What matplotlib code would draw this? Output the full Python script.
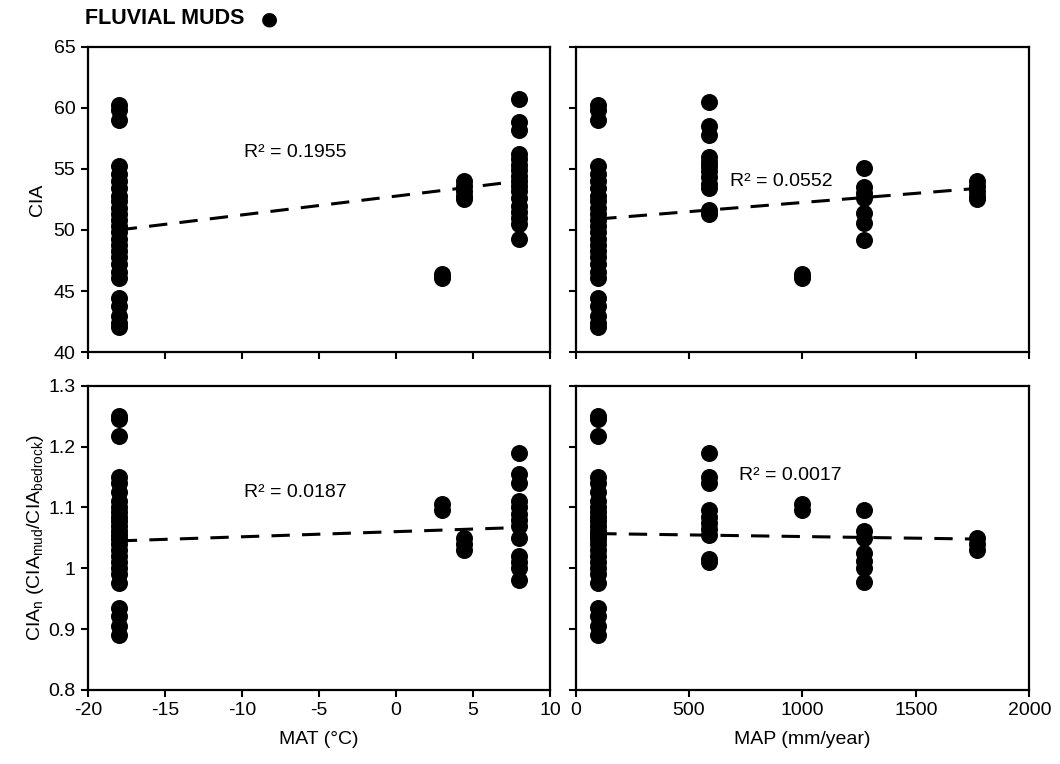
import matplotlib
matplotlib.use("Agg")
import matplotlib.pyplot as plt
import numpy as np

plt.rcParams['font.family'] = ['Liberation Sans', 'DejaVu Sans']
plt.rcParams['mathtext.fontset'] = 'custom'
plt.rcParams['mathtext.rm'] = 'Liberation Sans'
plt.rcParams['axes.unicode_minus'] = False

# site climate values (one per sampled group)
mat_sites = [-18, 3, 4.4, 8]
map_sites = [100, 1000, 1770, 590, 1270]

# CIA values per group
cia_cold = [60.2, 59.8, 59.0, 55.2, 54.6, 54.0, 53.4, 52.8, 52.4, 51.8, 51.3, 50.8,
            50.3, 49.8, 49.3, 48.8, 48.3, 47.8, 47.2, 46.6, 46.1, 44.4, 43.8, 43.0,
            42.4, 42.1]
cia_3 = [46.4, 46.1]
cia_44 = [54.0, 53.6, 53.2, 52.8, 52.5]
cia_8 = [60.7, 58.8, 58.2, 56.2, 55.8, 55.3, 54.9, 54.4, 54.0, 53.6, 53.2, 52.6,
         52.0, 51.5, 51.0, 50.5, 49.3]
cia_590 = [60.5, 58.5, 57.8, 56.0, 55.6, 55.2, 54.8, 54.3, 53.8, 53.4, 51.6, 51.3]
cia_1270 = [55.1, 53.5, 53.0, 52.6, 51.4, 50.6, 49.2]

# normalised CIA values per group
cian_cold = [1.250, 1.245, 1.218, 1.150, 1.140, 1.125, 1.110, 1.100, 1.092, 1.085,
             1.077, 1.070, 1.062, 1.055, 1.048, 1.040, 1.030, 1.020, 1.010, 1.000,
             0.990, 0.975, 0.935, 0.922, 0.905, 0.890]
cian_3 = [1.105, 1.095]
cian_44 = [1.050, 1.040, 1.030]
cian_8 = [1.190, 1.155, 1.140, 1.110, 1.100, 1.090, 1.080, 1.070, 1.050, 1.020,
          1.010, 1.000, 0.980]
cian_590 = [1.190, 1.150, 1.140, 1.095, 1.085, 1.075, 1.065, 1.055, 1.015, 1.010]
cian_1270 = [1.095, 1.062, 1.050, 1.025, 1.012, 1.000, 0.977]

# trend line end values
trend_mat_cia = [50.0, 54.0]
trend_map_cia = [50.9, 53.4]
trend_mat_cian = [1.045, 1.067]
trend_map_cian = [1.057, 1.048]
r2 = ["R² = 0.1955", "R² = 0.0552", "R² = 0.0187", "R² = 0.0017"]

# groups shared between MAT and MAP panels
cia_map_groups = [(100, cia_cold), (1000, cia_3), (1770, cia_44), (590, cia_590), (1270, cia_1270)]
cian_map_groups = [(100, cian_cold), (1000, cian_3), (1770, cian_44), (590, cian_590), (1270, cian_1270)]
cia_mat_groups = [(-18, cia_cold), (3, cia_3), (4.4, cia_44), (8, cia_8)]
cian_mat_groups = [(-18, cian_cold), (3, cian_3), (4.4, cian_44), (8, cian_8)]

FS = 14

fig = plt.figure(figsize=(10.6, 7.64), dpi=100)
ax1 = fig.add_axes([0.083, 0.539, 0.436, 0.400])
ax2 = fig.add_axes([0.543, 0.539, 0.428, 0.400])
ax3 = fig.add_axes([0.083, 0.097, 0.436, 0.398])
ax4 = fig.add_axes([0.543, 0.097, 0.428, 0.398])


def scatter_groups(ax, groups):
    for xv, ys in groups:
        ax.scatter([xv] * len(ys), ys, s=150, color='black', zorder=2, linewidths=0)


def style(ax, xlim, ylim, xticks, yticks):
    ax.set_xlim(*xlim)
    ax.set_ylim(*ylim)
    ax.set_xticks(xticks)
    ax.set_yticks(yticks)
    for sp in ax.spines.values():
        sp.set_linewidth(1.6)
    ax.tick_params(direction='out', length=5, width=1.5, labelsize=FS, pad=4)


scatter_groups(ax1, cia_mat_groups)
ax1.plot([mat_sites[0], mat_sites[-1]], trend_mat_cia, '--', color='black', lw=2.2,
         dashes=(6, 4), zorder=3)
ax1.text(0.337, 0.64, r2[0], transform=ax1.transAxes, fontsize=FS)
style(ax1, (-20, 10), (40, 65), range(-20, 11, 5), range(40, 66, 5))
ax1.set_xticklabels([])
ax1.set_ylabel('CIA', fontsize=FS)

scatter_groups(ax2, cia_map_groups)
ax2.plot([min(map_sites), max(map_sites)], trend_map_cia, '--', color='black', lw=2.2,
         dashes=(6, 4), zorder=3)
ax2.text(0.34, 0.545, r2[1], transform=ax2.transAxes, fontsize=FS)
style(ax2, (0, 2000), (40, 65), range(0, 2001, 500), range(40, 66, 5))
ax2.set_xticklabels([])
ax2.set_yticklabels([])

scatter_groups(ax3, cian_mat_groups)
ax3.plot([mat_sites[0], mat_sites[-1]], trend_mat_cian, '--', color='black', lw=2.2,
         dashes=(6, 4), zorder=3)
ax3.text(0.337, 0.635, r2[2], transform=ax3.transAxes, fontsize=FS)
style(ax3, (-20, 10), (0.8, 1.3), range(-20, 11, 5), np.arange(0.8, 1.31, 0.1))
ax3.set_yticklabels(['0.8', '0.9', '1', '1.1', '1.2', '1.3'])
ax3.set_xlabel('MAT (°C)', fontsize=FS, labelpad=8)
ax3.set_ylabel(r'CIA$_\mathregular{n}$ (CIA$_\mathregular{mud}$/CIA$_\mathregular{bedrock}$)',
               fontsize=FS)

scatter_groups(ax4, cian_map_groups)
ax4.plot([min(map_sites), max(map_sites)], trend_map_cian, '--', color='black', lw=2.2,
         dashes=(6, 4), zorder=3)
ax4.text(0.36, 0.69, r2[3], transform=ax4.transAxes, fontsize=FS)
style(ax4, (0, 2000), (0.8, 1.3), range(0, 2001, 500), np.arange(0.8, 1.31, 0.1))
ax4.set_yticklabels([])
ax4.set_xlabel('MAP (mm/year)', fontsize=FS, labelpad=8)

fig.text(0.08, 0.976, 'FLUVIAL MUDS', fontsize=15.5, fontweight='bold', va='center')
fig.text(0.246, 0.975, '●', fontsize=14, va='center', family=['DejaVu Sans'])
ax1.yaxis.set_label_coords(-0.09, 0.5)
ax3.yaxis.set_label_coords(-0.09, 0.5)

fig.savefig('out.png', dpi=100)
